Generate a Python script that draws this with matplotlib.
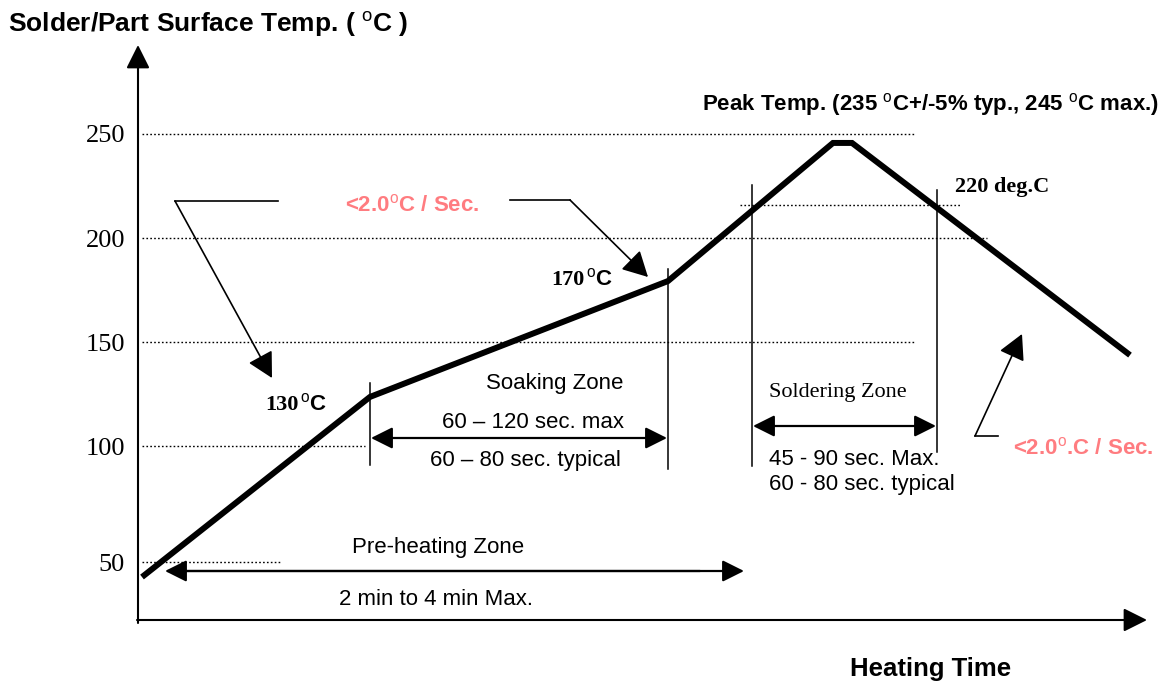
import matplotlib
matplotlib.use('Agg')
import matplotlib.pyplot as plt

plt.rcParams['mathtext.fontset'] = 'custom'
plt.rcParams['mathtext.rm'] = 'Liberation Sans'
plt.rcParams['mathtext.bf'] = 'Liberation Sans:bold'
plt.rcParams['mathtext.it'] = 'Liberation Sans:italic'

SANS = 'Liberation Sans'
SERIF = 'Liberation Serif'
PINK = '#FF7C80'

# reflow profile (time in drawing units, temperature in deg C)
time = [142, 370, 668, 833, 852, 1130]
temp = [37.0, 123.6, 179.3, 245.7, 245.7, 143.7]

# dotted reference lines and their labels
grid_temps = [250, 200, 150, 100, 44.2]
grid_labels = ['250', '200', '150', '100', '50']
grid_ends = [915, 987, 915, 365, 280]
line220_temp = 216
line220_span = (740, 960)

# zone markers: (time, temp_top, temp_bottom)
markers = [(370, 130.3, 90.9), (668, 185.1, 88.9),
           (752, 225.5, 90.4), (937, 223.1, 97.1)]


def ty(py):
    # picture row -> temperature units of the drawing
    return 250 - (py - 134) / 2.08


fig = plt.figure(figsize=(11.67, 6.86), dpi=100)
ax = fig.add_axes([0, 0, 1, 1])
ax.set_xlim(0, 1167)
ax.set_ylim(ty(686), ty(0))
ax.axis('off')

dots = (0, (1.2, 1.6))
# grid lines + tick labels
for t, lab, xe in zip(grid_temps, grid_labels, grid_ends):
    ax.plot([142, xe], [t, t], color='k', lw=1.0, ls=dots)
    ax.text(125, t, lab, ha='right', va='center_baseline', fontsize=19,
            family=SERIF)
ax.plot(line220_span, [line220_temp] * 2, color='k', lw=1.0, ls=dots)

# axes arrows
ah = dict(arrowstyle='-|>,head_length=0.6,head_width=0.3', mutation_scale=24,
          lw=1.5, color='k', shrinkA=0, shrinkB=0)
ax.annotate('', xy=(138, ty(45)), xytext=(138, ty(623)), arrowprops=ah)
ax.annotate('', xy=(1147, ty(620)), xytext=(137, ty(620)), arrowprops=ah)

# profile
ax.plot(time, temp, color='k', lw=4.3, solid_capstyle='butt',
        solid_joinstyle='miter')

# zone markers
for x, t0, t1 in markers:
    ax.plot([x, x], [t0, t1], color='k', lw=1.1)

# double arrows
dh = dict(arrowstyle='<|-|>,head_length=0.6,head_width=0.3', mutation_scale=22,
          lw=1.6, color='k', shrinkA=0, shrinkB=0)
ax.annotate('', xy=(371, ty(438)), xytext=(667, ty(438)), arrowprops=dh)
ax.annotate('', xy=(753, ty(426)), xytext=(936, ty(426)), arrowprops=dh)
ph = dict(arrowstyle='-|>,head_length=0.6,head_width=0.3', mutation_scale=22,
          lw=1.6, color='k', shrinkA=0, shrinkB=0)
ax.annotate('', xy=(165, ty(571)), xytext=(700, ty(571)), arrowprops=ph)
ax.annotate('', xy=(744, ty(571)), xytext=(180, ty(571)), arrowprops=ph)

# leader arrows
lh = dict(arrowstyle='-|>,head_length=0.6,head_width=0.32', mutation_scale=26,
          lw=1.2, color='k', shrinkA=0, shrinkB=0)
ax.plot([278, 175], [ty(201), ty(201)], color='k', lw=1.2)
ax.annotate('', xy=(272, ty(378)), xytext=(175, ty(201)), arrowprops=lh)
ax.plot([510, 570], [ty(200), ty(200)], color='k', lw=1.2)
ax.annotate('', xy=(648, ty(277)), xytext=(570, ty(200)), arrowprops=lh)
ax.plot([998, 975], [ty(436), ty(436)], color='k', lw=1.2)
ax.annotate('', xy=(1022, ty(334)), xytext=(975, ty(436)), arrowprops=lh)

# texts
deg = r'$^{\mathrm{o}}$'
ax.text(8, ty(32), 'Solder/Part Surface Temp. ( ' + deg + 'C )', fontsize=19,
        fontweight='bold', family=SANS, va='baseline')
ax.text(702, ty(110), 'Peak Temp. (235 ' + deg + 'C+/-5% typ., 245 ' + deg + 'C max.)',
        fontsize=16, fontweight='bold', family=SANS, va='baseline')
ax.text(345, ty(211), '<2.0' + deg + 'C / Sec.', fontsize=16, fontweight='bold',
        family=SANS, color=PINK, va='baseline')
ax.text(1013, ty(454), '<2.0' + deg + '.C / Sec.', fontsize=16, fontweight='bold',
        family=SANS, color=PINK, va='baseline')

ax.text(265, ty(410), '130', fontsize=16, fontweight='bold', family=SERIF,
        va='baseline')
ax.text(300, ty(410), deg + 'C', fontsize=16, fontweight='bold', family=SANS,
        va='baseline')
ax.text(551, ty(285), '170', fontsize=16, fontweight='bold', family=SERIF,
        va='baseline')
ax.text(586, ty(285), deg + 'C', fontsize=16, fontweight='bold', family=SANS,
        va='baseline')
ax.text(955, ty(192), '220 deg.C', fontsize=16, fontweight='bold', family=SERIF,
        va='baseline')

ax.text(486, ty(389), 'Soaking Zone', fontsize=16, family=SANS, va='baseline')
ax.text(442, ty(428), '60 \u2013 120 sec. max', fontsize=16, family=SANS, va='baseline')
ax.text(430, ty(466), '60 \u2013 80 sec. typical', fontsize=16, family=SANS, va='baseline')

ax.text(769, ty(397), 'Soldering Zone', fontsize=16, family=SERIF, va='baseline')
ax.text(769, ty(465), '45 - 90 sec. Max.', fontsize=16, family=SANS, va='baseline')
ax.text(769, ty(490), '60 - 80 sec. typical', fontsize=16, family=SANS, va='baseline')

ax.text(352, ty(553), 'Pre-heating Zone', fontsize=16, family=SANS, va='baseline')
ax.text(339, ty(605), '2 min to 4 min Max.', fontsize=16, family=SANS, va='baseline')

ax.text(850, ty(676), 'Heating Time', fontsize=18.5, fontweight='bold', family=SANS,
        va='baseline')

fig.savefig('out.png', dpi=100)
